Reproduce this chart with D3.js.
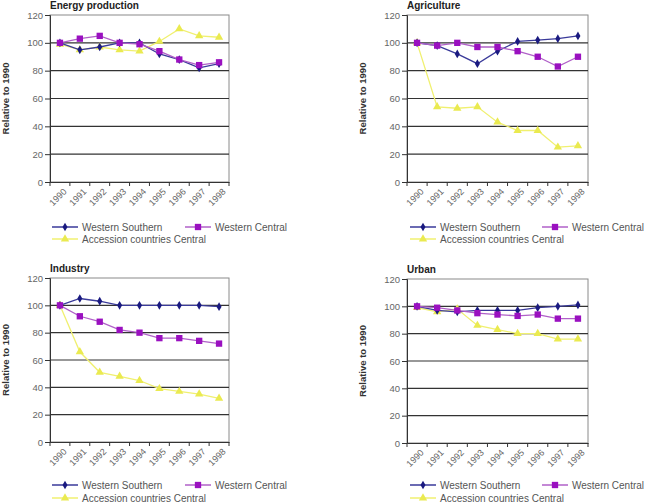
<!DOCTYPE html>
<html><head><meta charset="utf-8">
<script src="https://cdn.jsdelivr.net/npm/d3@7"></script>
<style>body{margin:0;background:#fff}svg{display:block}text{font-family:"Liberation Sans",Arial,sans-serif}</style>
</head><body><svg id="c" width="650" height="503"></svg>
<script>
const years = ["1990","1991","1992","1993","1994","1995","1996","1997","1998"];
const yTicks = [0,20,40,60,80,100,120];
const seriesNames = ["Western Southern","Western Central","Accession countries Central"];
const panelTitles = ["Energy production","Agriculture","Industry","Urban"];
const yAxisLabel = "Relative to 1990";

const energyWS = [100,95,97,100,100,92,88,82,85];
const energyWC = [100,103,105,100,99,94,88,84,86];
const energyAC = [99,95,97,95,94,101,110,105,104];

const agriWS = [100,98,92,85,94,101,102,103,105];
const agriWC = [100,98,100,97,97,94,90,83,90];
const agriAC = [100,54,53,54,43,37,37,25,26];

const industryWS = [100,105,103,100,100,100,100,100,99];
const industryWC = [100,92,88,82,80,76,76,74,72];
const industryAC = [100,66,51,48,45,39,37,35,32];

const urbanWS = [100,97,96,97,97,97,99,100,101];
const urbanWC = [100,99,97,95,94,93,94,91,91];
const urbanAC = [99,96,98,86,83,80,80,76,76];

const panelData = [
  [energyWS, energyWC, energyAC],
  [agriWS, agriWC, agriAC],
  [industryWS, industryWC, industryAC],
  [urbanWS, urbanWC, urbanAC]
];

const layout = [
  {l:50, r:229, t:15, b:182, ylab:6, leg1:227, leg2:239, legX:52, legX2:185},
  {l:407, r:588, t:15, b:182, ylab:363, leg1:227, leg2:239, legX:410, legX2:542},
  {l:50, r:229, t:278, b:442, ylab:6, leg1:485, leg2:498, legX:52, legX2:185},
  {l:407, r:588, t:279, b:443, ylab:363, leg1:485, leg2:498, legX:410, legX2:542}
];
const lineColors = ["#3a3a9a","#b060c8","#f0f070"];
const markColors = ["#1a1a80","#9a10c0","#eaea50"];
const markerTypes = [d3.symbolDiamond, d3.symbolSquare, d3.symbolTriangle];
const markerSizes = [22, 40, 30];

const svg = d3.select("#c");

panelData.forEach((series, pi) => {
  const L = layout[pi];
  const g = svg.append("g");
  const x = d3.scaleBand().domain(years).range([L.l, L.r]);
  const y = d3.scaleLinear().domain([0,120]).range([L.b, L.t]);
  const cx = d => x(d) + x.bandwidth()/2;

  // frame
  g.append("rect").attr("x",L.l).attr("y",L.t).attr("width",L.r-L.l).attr("height",L.b-L.t)
    .attr("fill","none").attr("stroke","#8a8a8a").attr("stroke-width",1);
  // gridlines
  g.selectAll(".grid").data(yTicks.filter(v=>v>0 && v<120)).join("line")
    .attr("x1",L.l).attr("x2",L.r).attr("y1",d=>y(d)).attr("y2",d=>y(d))
    .attr("stroke","#333").attr("stroke-width",1.2);

  // y axis
  const ya = g.append("g").attr("transform",`translate(${L.l},0)`)
    .call(d3.axisLeft(y).tickValues(yTicks).tickSize(5).tickPadding(2));
  ya.select(".domain").attr("stroke","#333");
  ya.selectAll(".tick line").attr("stroke","#333");
  ya.selectAll("text").attr("fill","#666").style("font-size","9.5px");

  // x axis
  const xa = g.append("g").attr("transform",`translate(0,${L.b})`)
    .call(d3.axisBottom(x).tickSize(0).tickFormat(""));
  xa.select(".domain").attr("stroke","#333");
  g.selectAll(".xt").data(years.concat(["end"])).join("line")
    .attr("x1",(d,i)=>L.l + i*x.step()).attr("x2",(d,i)=>L.l + i*x.step())
    .attr("y1",L.b).attr("y2",L.b+4).attr("stroke","#333");
  g.selectAll(".xl").data(years).join("text")
    .attr("transform", d => `translate(${cx(d)+5},${L.b+8}) rotate(-45)`)
    .attr("text-anchor","end").attr("dy","0.35em")
    .attr("fill","#666").style("font-size","9px").text(d=>d);

  // title
  g.append("text").attr("x",L.l).attr("y",L.t-6).style("font-size","10px")
    .style("font-weight","bold").attr("fill","#222").text(panelTitles[pi]);
  // y label
  g.append("text").attr("transform",`translate(${L.ylab+3},${(L.t+L.b)/2}) rotate(-90)`)
    .attr("text-anchor","middle").style("font-size","9.5px").style("font-weight","bold")
    .attr("fill","#333").text(yAxisLabel);

  // series (draw AC first? draw in order)
  const line = d3.line().x((d,i)=>cx(years[i])).y(d=>y(d));
  [2,0,1].forEach(si => {
    const vals = series[si];
    g.append("path").datum(vals).attr("d",line).attr("fill","none")
      .attr("stroke",lineColors[si]).attr("stroke-width",1.3);
    g.selectAll(".m"+si).data(vals).join("path")
      .attr("transform",(d,i)=>`translate(${cx(years[i])},${y(d)})`)
      .attr("d", d3.symbol().type(markerTypes[si]).size(markerSizes[si]))
      .attr("fill",markColors[si]);
  });

  // legend
  const legItems = [
    {si:0, x:L.legX, y:L.leg1},
    {si:1, x:L.legX2, y:L.leg1},
    {si:2, x:L.legX, y:L.leg2}
  ];
  legItems.forEach(it => {
    const lg = g.append("g");
    lg.append("line").attr("x1",it.x).attr("x2",it.x+26).attr("y1",it.y).attr("y2",it.y)
      .attr("stroke",lineColors[it.si]).attr("stroke-width",1.5);
    lg.append("path").attr("transform",`translate(${it.x+13},${it.y})`)
      .attr("d", d3.symbol().type(markerTypes[it.si]).size(markerSizes[it.si])).attr("fill",markColors[it.si]);
    lg.append("text").attr("x",it.x+30).attr("y",it.y).attr("dy","0.35em")
      .style("font-size","10px").attr("fill","#555").text(seriesNames[it.si]);
  });
});
</script></body></html>
